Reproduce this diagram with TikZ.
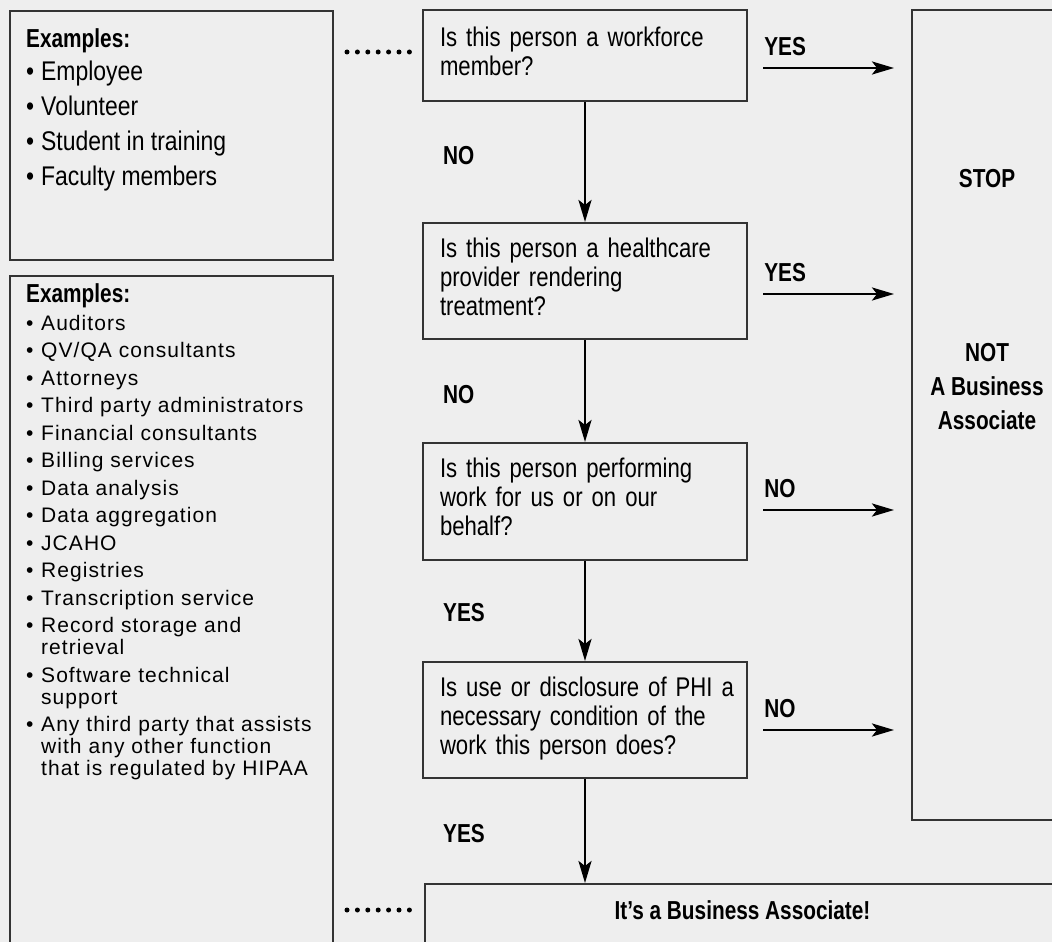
\documentclass[tikz,border=0pt]{standalone}
\usepackage{fontspec}
\setmainfont{Liberation Sans}
\newfontfamily\cnfont{Liberation Sans}[FakeStretch=0.85]
\newfontfamily\qfont{Liberation Sans}[FakeStretch=0.82]
\newfontfamily\cnbfont{Liberation Sans}[FakeStretch=0.8]
\newfontfamily\listfont{Liberation Sans}[LetterSpace=5]
\usetikzlibrary{arrows.meta}
\definecolor{bggray}{HTML}{EEEEEE}
\definecolor{edgegray}{HTML}{333333}
\newcommand{\bul}{\makebox[15pt][l]{•}}

\begin{document}
\begin{tikzpicture}[x=1pt, y=-1pt,
    box/.style={draw=edgegray, line width=2pt, rectangle, inner sep=0pt},
    question/.style={box, text width=290pt, inner xsep=17pt, align=left, font=\qfont\fontsize{27}{29}\selectfont},
    lbl/.style={inner sep=0pt, font=\cnbfont\bfseries\fontsize{26}{34}\selectfont},
    arr/.style={line width=2.6pt, -{Stealth[length=22pt,width=13pt,inset=5pt]}},
    dots/.style={line width=5pt, line cap=round, dash pattern=on 0pt off 10.4pt}]

            \fill[bggray] (0,0) rectangle (1052,942);
            \useasboundingbox (0,0) rectangle (1052,942);

            \node[box, anchor=north west, minimum width=323pt, minimum height=249pt] (ex1) at (9,10) {};
            \node[box, anchor=north west, minimum width=323pt, minimum height=700pt] (ex2) at (9,275) {};

            \node[anchor=north west, align=left, inner sep=0pt, font=\cnfont\fontsize{27}{35}\selectfont] (ex1txt) at (26,28) {%
                {\cnbfont\bfseries\fontsize{26}{35}\selectfont Examples:}\\[-2pt]
                \bul Employee\\ \bul Volunteer\\ \bul Student in training\\ \bul Faculty members};

            \node[anchor=north west, align=left, inner sep=0pt, font=\listfont\fontsize{21}{22}\selectfont] (ex2txt) at (26,283) {%
                {\cnbfont\bfseries\fontsize{26}{22}\selectfont Examples:}\\[6pt]
                \bul Auditors\\[5.5pt] \bul QV/QA consultants\\[5.5pt] \bul Attorneys\\[5.5pt]
                \bul Third party administrators\\[5.5pt] \bul Financial consultants\\[5.5pt]
                \bul Billing services\\[5.5pt] \bul Data analysis\\[5.5pt] \bul Data aggregation\\[5.5pt]
                \bul JCAHO\\[5.5pt] \bul Registries\\[5.5pt] \bul Transcription service\\[5.5pt]
                \bul Record storage and\\ \hspace*{15pt}retrieval\\[5.5pt]
                \bul Software technical\\ \hspace*{15pt}support\\[5.5pt]
                \bul Any third party that assists\\ \hspace*{15pt}with any other function\\ \hspace*{15pt}that is regulated by HIPAA};

            \node[question, minimum height=91pt] (q1) at (585,55.5) {Is this person a workforce\\member?\strut};
            \node[question, minimum height=116pt] (q2) at (585,281) {Is this person a healthcare\\provider rendering\\treatment?\strut};
            \node[question, minimum height=117pt] (q3) at (585,501.5) {Is this person performing\\work for us or on our\\behalf?\strut};
            \node[question, minimum height=116pt] (q4) at (585,720) {\mbox{Is use or disclosure of PHI a}\\necessary condition of the\\work this person does?\strut};

            \node[box, minimum width=150pt, minimum height=810pt] (stop) at (987,415) {};
            \node[lbl] (stoptxt) at (987,178.5) {STOP};
            \node[lbl, align=center] (nottxt) at (987,387) {NOT\\A Business\\Associate};

            \node[box, anchor=north west, minimum width=640pt, minimum height=120pt] (fin) at (424,883) {};
            \node[lbl] (fintxt) at (742.5,910) {It’s a Business Associate!};

            \path ([yshift=3.5pt]q1.west) coordinate (d1);
            \draw[dots, shorten <=13pt, shorten >=11pt] (ex1.east |- d1) -- (d1);
            \draw[dots, shorten <=13pt, shorten >=13pt] (ex2.east |- fintxt) -- (fin.west |- fintxt);

            \foreach \q/\dy/\ans in {q1/12.5/YES, q2/13/YES, q3/8.5/NO, q4/10/NO}{
                \draw[arr, shorten <=15pt, shorten >=17pt] ([yshift=-\dy pt]\q.east) node[lbl, anchor=south west, xshift=15pt, yshift=11pt] (a\q) {\ans} -- ([yshift=-\dy pt]\q.east -| stop.west);
            }

            \foreach \a/\b/\ans/\yb in {q1/q2/NO/164, q2/q3/NO/403, q3/q4/YES/621, q4/fin/YES/842}{
                \draw[arr] (\a.south) -- (\a.south |- \b.north);
                \node[lbl, anchor=base west] (v\a) at (443,\yb) {\ans};
            }

        \end{tikzpicture}
\end{document}
